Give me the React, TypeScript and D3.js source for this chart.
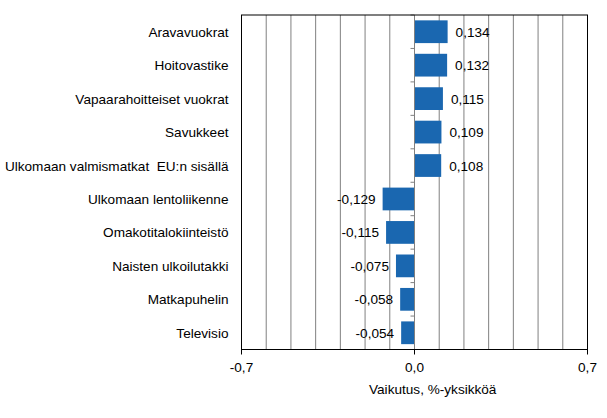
import React from "react";
import * as d3 from "d3";

const categories = [
  "Aravavuokrat",
  "Hoitovastike",
  "Vapaarahoitteiset vuokrat",
  "Savukkeet",
  "Ulkomaan valmismatkat  EU:n sisällä",
  "Ulkomaan lentoliikenne",
  "Omakotitalokiinteistö",
  "Naisten ulkoilutakki",
  "Matkapuhelin",
  "Televisio",
];
const values = [0.134, 0.132, 0.115, 0.109, 0.108, -0.129, -0.115, -0.075, -0.058, -0.054];
const tickValues = [-0.7, 0, 0.7];
const gridValues = [-0.6, -0.5, -0.4, -0.3, -0.2, -0.1, 0.1, 0.2, 0.3, 0.4, 0.5, 0.6];
const axisTitle = "Vaikutus, %-yksikköä";

const fmt = (v: number) => v.toFixed(3).replace(".", ",");
const fmtTick = (v: number) => v.toFixed(1).replace(".", ",");

export default function App() {
  const W = 607, H = 418;
  const left = 241.5, right = 587.5, top = 15, bottom = 349.5;
  const x = d3.scaleLinear().domain([-0.7, 0.7]).range([left, right]);
  const y = d3.scaleBand<string>().domain(categories).range([top, bottom]).paddingInner(0.32).paddingOuter(0.16);
  const band = d3.scaleBand<string>().domain(categories).range([top, bottom]);
  const font = "'Liberation Sans', Arial, sans-serif";
  const color = "#1a67b0";
  const fs = 13.6;
  return (
    <svg width={W} height={H} style={{ position: "absolute", left: 0, top: 0 }} fontFamily={font}>
      <rect x={0} y={0} width={W} height={H} fill="#fff" />
      {gridValues.map((g) => (
        <line key={g} x1={x(g)} x2={x(g)} y1={top} y2={bottom} stroke="#808080" strokeWidth={1} />
      ))}
      {categories.map((c, i) => {
        const v = values[i];
        const x0 = x(Math.min(0, v));
        const w = Math.abs(x(v) - x(0));
        const yc = (y(c) as number) + y.bandwidth() / 2;
        return (
          <g key={c}>
            <rect x={x0} y={y(c)} width={w} height={y.bandwidth()} fill={color} />
            <text
              x={v >= 0 ? x(v) + 8 : x(v) - 7}
              y={yc}
              dy="0.37em"
              textAnchor={v >= 0 ? "start" : "end"}
              fontSize={fs}
              fill="#000"
            >
              {fmt(v)}
            </text>
            <text x={228.5} y={yc} dy="0.37em" textAnchor="end" fontSize={fs} fill="#000" style={{ whiteSpace: "pre" }}>
              {c}
            </text>
          </g>
        );
      })}
      <line x1={x(0)} x2={x(0)} y1={top} y2={bottom} stroke="#808080" strokeWidth={1} />
      {categories.concat([""]).map((c, i) => {
        const yy = top + band.step() * i;
        return <line key={"t" + i} x1={x(0) - 4} x2={x(0)} y1={yy} y2={yy} stroke="#808080" strokeWidth={1} />;
      })}
      <rect x={left} y={top} width={right - left} height={bottom - top} fill="none" stroke="#000" strokeWidth={1} />
      {tickValues.map((t) => (
        <g key={t}>
          <line x1={x(t)} x2={x(t)} y1={bottom} y2={bottom + 5} stroke="#000" />
          <text x={x(t)} y={bottom + 17} dy="0.37em" textAnchor="middle" fontSize={fs} fill="#000">
            {fmtTick(t)}
          </text>
        </g>
      ))}
      <text x={369} y={388.5} dy="0.37em" fontSize={fs} fill="#000" textAnchor="start">
        {axisTitle}
      </text>
    </svg>
  );
}
